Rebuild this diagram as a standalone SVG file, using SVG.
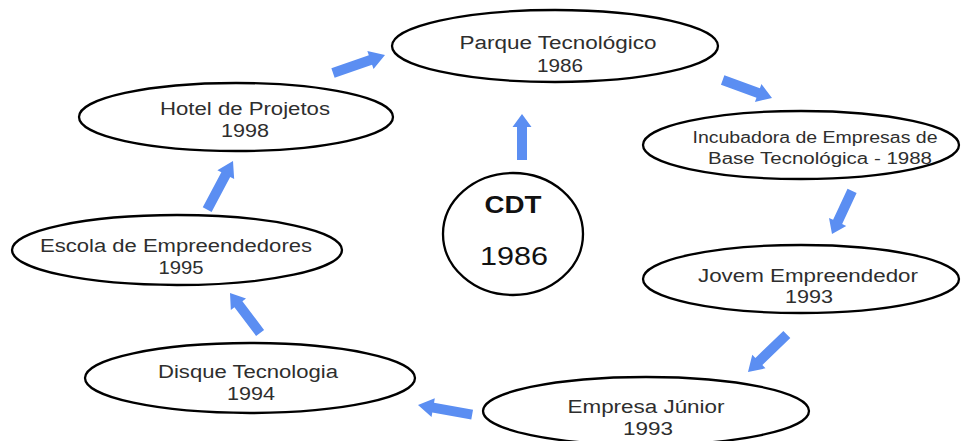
<svg xmlns="http://www.w3.org/2000/svg" xmlns:xlink="http://www.w3.org/1999/xlink" width="961" height="441" viewBox="0 0 961 441">
  <style>
    .node ellipse { fill: #ffffff; stroke: #000000; stroke-width: 2.3; }
    .node text { font-family: "Liberation Sans", Arial, sans-serif; font-size: 18px; fill: #2e2e2e; text-anchor: middle; }
    .node text.small { font-size: 16px; }
    .cdt text { fill: #111111; }
    .flow use { fill: #5b8ef2; }
  </style>
  <defs>
    <!-- block arrow, tip at origin pointing along +x -->
    <path id="arrow" d="M-50,-5 H-14 V-9.5 L0,0 L-14,9.5 V5 H-50 Z"/>
  </defs>

  <rect width="961" height="441" fill="#ffffff"/>

  <g id="connectors" class="flow">
    <use xlink:href="#arrow" transform="translate(385,55) rotate(-19) scale(1.1,1)"/>
    <use xlink:href="#arrow" transform="translate(772,98) rotate(20) scale(1.05,1)"/>
    <use xlink:href="#arrow" transform="translate(522,114) rotate(-90) scale(0.92,1)"/>
    <use xlink:href="#arrow" transform="translate(832,234) rotate(115) scale(0.95,1)"/>
    <use xlink:href="#arrow" transform="translate(748,372) rotate(136) scale(1.08,1)"/>
    <use xlink:href="#arrow" transform="translate(418,405) rotate(190) scale(1.1,1)"/>
    <use xlink:href="#arrow" transform="translate(230,293) rotate(233) scale(1.0,1)"/>
    <use xlink:href="#arrow" transform="translate(233,161) rotate(-62) scale(1.1,1)"/>
  </g>

  <g id="parque" class="node">
    <ellipse cx="555" cy="46" rx="163" ry="36"/>
    <text x="558" y="49" textLength="197" lengthAdjust="spacingAndGlyphs">Parque Tecnológico</text>
    <text x="560" y="72" textLength="46" lengthAdjust="spacingAndGlyphs">1986</text>
  </g>

  <g id="hotel" class="node">
    <ellipse cx="236" cy="117" rx="157" ry="34"/>
    <text x="245" y="115" textLength="170" lengthAdjust="spacingAndGlyphs">Hotel de Projetos</text>
    <text x="245" y="137" textLength="48" lengthAdjust="spacingAndGlyphs">1998</text>
  </g>

  <g id="incubadora" class="node">
    <ellipse cx="801" cy="145" rx="158" ry="34"/>
    <text class="small" x="815" y="143" textLength="245" lengthAdjust="spacingAndGlyphs">Incubadora de Empresas de</text>
    <text class="small" x="820" y="164" textLength="224" lengthAdjust="spacingAndGlyphs">Base Tecnológica - 1988</text>
  </g>

  <g id="cdt" class="node cdt">
    <ellipse cx="513" cy="234" rx="70" ry="61"/>
    <text x="513" y="213" style="font-size:23px;font-weight:bold" textLength="57" lengthAdjust="spacingAndGlyphs">CDT</text>
    <text x="514" y="265" style="font-size:25px" textLength="68" lengthAdjust="spacingAndGlyphs">1986</text>
  </g>

  <g id="escola" class="node">
    <ellipse cx="177" cy="250" rx="165" ry="35"/>
    <text x="176" y="252" textLength="272" lengthAdjust="spacingAndGlyphs">Escola de Empreendedores</text>
    <text x="181" y="274" textLength="45" lengthAdjust="spacingAndGlyphs">1995</text>
  </g>

  <g id="jovem" class="node">
    <ellipse cx="801" cy="279" rx="158" ry="34"/>
    <text x="808" y="282" textLength="220" lengthAdjust="spacingAndGlyphs">Jovem Empreendedor</text>
    <text x="809" y="303" textLength="48" lengthAdjust="spacingAndGlyphs">1993</text>
  </g>

  <g id="disque" class="node">
    <ellipse cx="250" cy="378" rx="165" ry="35"/>
    <text x="248" y="378" textLength="180" lengthAdjust="spacingAndGlyphs">Disque Tecnologia</text>
    <text x="251" y="400" textLength="48" lengthAdjust="spacingAndGlyphs">1994</text>
  </g>

  <g id="empresa" class="node">
    <ellipse cx="646" cy="411" rx="163" ry="34"/>
    <text x="646" y="413" textLength="157" lengthAdjust="spacingAndGlyphs">Empresa Júnior</text>
    <text x="648" y="435" textLength="50" lengthAdjust="spacingAndGlyphs">1993</text>
  </g>
</svg>
